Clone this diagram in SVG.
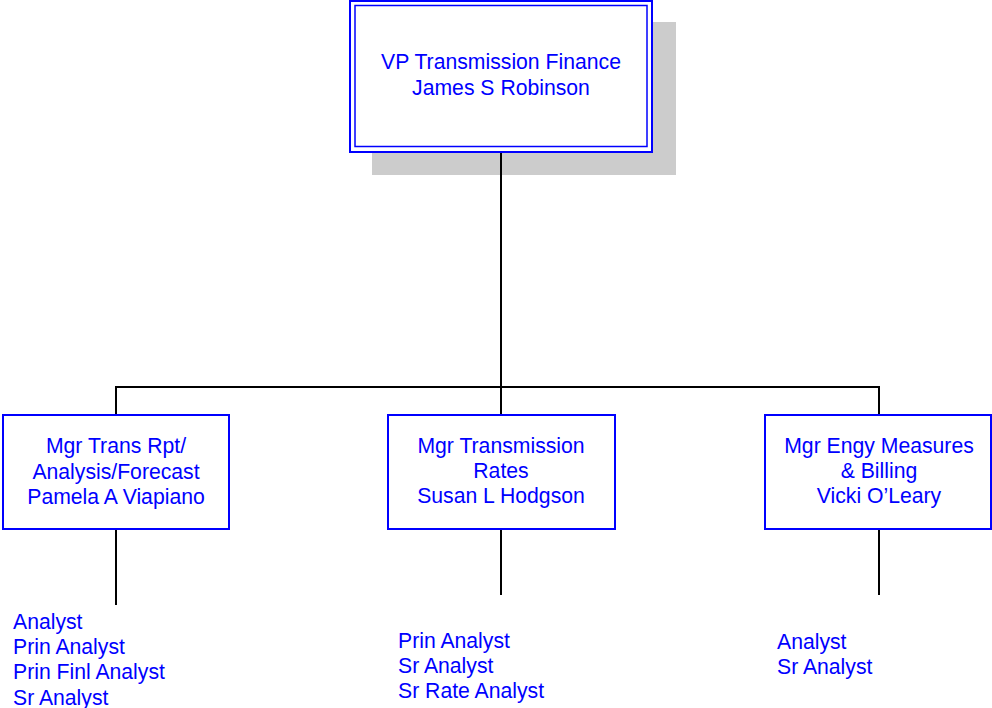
<svg xmlns="http://www.w3.org/2000/svg" width="992" height="708" viewBox="0 0 992 708">
<style>
.box{fill:#fff;stroke:#0000ff;stroke-width:2}
.t{font-family:"Liberation Sans",Arial,sans-serif;font-size:21.2px;fill:#0000ff}
.c{text-anchor:middle}
.ln{stroke:#000;stroke-width:2;fill:none}
</style>
<rect width="992" height="708" fill="#fff"/>
<g id="vp">
<rect x="372" y="22" width="304" height="153" fill="#cccccc"/>
<rect x="350" y="1" width="302" height="151" class="box"/>
<rect x="355" y="5.5" width="292" height="141" fill="none" stroke="#0000ff" stroke-width="1.5"/>
<text class="t c" x="501" y="69">VP Transmission Finance</text>
<text class="t c" x="501" y="94.5">James S Robinson</text>
</g>
<g id="connectors">
<line class="ln" x1="501" y1="153" x2="501" y2="388"/>
<line class="ln" x1="116" y1="387" x2="880" y2="387"/>
<line class="ln" x1="116" y1="386" x2="116" y2="414"/>
<line class="ln" x1="501" y1="386" x2="501" y2="414"/>
<line class="ln" x1="879" y1="386" x2="879" y2="414"/>
<line class="ln" x1="116" y1="530" x2="116" y2="605"/>
<line class="ln" x1="501" y1="530" x2="501" y2="595"/>
<line class="ln" x1="879" y1="530" x2="879" y2="595"/>
</g>
<g id="mgr1">
<rect x="3" y="415" width="226" height="114" class="box"/>
<text class="t c" x="116" y="452.7">Mgr Trans Rpt/</text>
<text class="t c" x="116" y="478.7">Analysis/Forecast</text>
<text class="t c" x="116" y="503.5">Pamela A Viapiano</text>
</g>
<g id="mgr2">
<rect x="388" y="415" width="227" height="114" class="box"/>
<text class="t c" x="501" y="452.7">Mgr Transmission</text>
<text class="t c" x="501" y="478.3">Rates</text>
<text class="t c" x="501" y="503">Susan L Hodgson</text>
</g>
<g id="mgr3">
<rect x="765" y="415" width="226" height="114" class="box"/>
<text class="t c" x="879" y="452.7">Mgr Engy Measures</text>
<text class="t c" x="879" y="478.3">&amp; Billing</text>
<text class="t c" x="879" y="503.3">Vicki O’Leary</text>
</g>
<g id="staff1">
<text class="t" x="13" y="628.5">Analyst</text>
<text class="t" x="13" y="654">Prin Analyst</text>
<text class="t" x="13" y="679.3">Prin Finl Analyst</text>
<text class="t" x="13" y="704.5">Sr Analyst</text>
</g>
<g id="staff2">
<text class="t" x="398" y="647.5">Prin Analyst</text>
<text class="t" x="398" y="672.5">Sr Analyst</text>
<text class="t" x="398" y="697.5">Sr Rate Analyst</text>
</g>
<g id="staff3">
<text class="t" x="777" y="648.5">Analyst</text>
<text class="t" x="777" y="673.5">Sr Analyst</text>
</g>
</svg>
